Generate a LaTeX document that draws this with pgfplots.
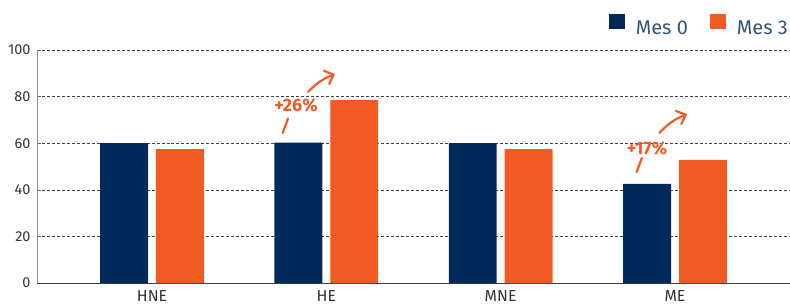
\documentclass[border=0pt]{standalone}
\usepackage{fontspec}
\setmainfont{Fira Sans}
\usepackage{pgfplots}
\pgfplotsset{compat=1.18}
\usetikzlibrary{arrows.meta}
\definecolor{navy}{HTML}{002A5C}
\definecolor{orng}{HTML}{F15A22}
\begin{document}
\begin{tikzpicture}
\begin{axis}[
  scale only axis, width=753bp, height=233bp,
  xmin=-0.66, xmax=3.66, ymin=0, ymax=100,
  xtick={0,1,2,3},
  xticklabels={HNE,HE,MNE,ME},
  ytick={0,20,40,60,80,100},
  /pgf/number format/assume math mode=true,
  y tick label style={font=\fontsize{14.5}{16}\selectfont, text=black!80, xshift=-3bp},
  x tick label style={font=\fontsize{16}{18}\selectfont, text=black!80, yshift=-4bp},
  axis x line*=bottom, axis y line*=left,
  x axis line style={draw=black!75, line width=0.8pt},
  y axis line style={draw=black!45, line width=0.8pt},
  x tick style={draw=none},
  y tick style={draw=black!60},
  major tick length=4bp,
  ymajorgrids, grid style={densely dashed, black!75, line width=0.5pt},
  legend columns=2,
  legend style={draw=none, at={(1,1)}, anchor=east, yshift=24bp, inner sep=0pt,
    font=\fontsize{20}{22}\selectfont, text=navy!80,
    /tikz/every odd column/.append style={column sep=9bp},
    /tikz/every even column/.append style={column sep=20bp}},
  legend image code/.code={\fill[#1] (0,-0.5bp) rectangle (16bp,14.5bp);},
  clip=false,
]
\addplot[ybar, bar width=0.275, bar shift=-0.16, fill=navy, draw=none]
  coordinates {(0,60) (1,60.2) (2,60) (3,42.5)};
\addlegendentry{Mes 0}
\addplot[ybar, bar width=0.275, bar shift=0.16, fill=orng, draw=none]
  coordinates {(0,57.5) (1,78.5) (2,57.5) (3,52.8)};
\addlegendentry{Mes 3}
\node[text=orng, font=\fontsize{18}{20}\selectfont\bfseries] at (axis cs:0.826,76.4) {+26\%};
\draw[orng, line width=2.2pt, line cap=round] (axis cs:0.75,64.4) -- (axis cs:0.78,70.6);
\draw[orng, line width=2.2pt, line cap=round, -{Straight Barb[length=8pt, width=15pt]}]
  (axis cs:0.895,82) to[bend left=12] (axis cs:1.05,89.7);
\node[text=orng, font=\fontsize{18}{20}\selectfont\bfseries] at (axis cs:2.84,57.9) {+17\%};
\draw[orng, line width=2.2pt, line cap=round] (axis cs:2.78,47.6) -- (axis cs:2.81,53.6);
\draw[orng, line width=2.2pt, line cap=round, -{Straight Barb[length=8pt, width=15pt]}]
  (axis cs:2.91,64.4) to[bend left=12] (axis cs:3.07,72.5);
\end{axis}
\pgfresetboundingbox
\path[use as bounding box] (-37bp,-23bp) rectangle (753bp,283bp);
\end{tikzpicture}
\end{document}
